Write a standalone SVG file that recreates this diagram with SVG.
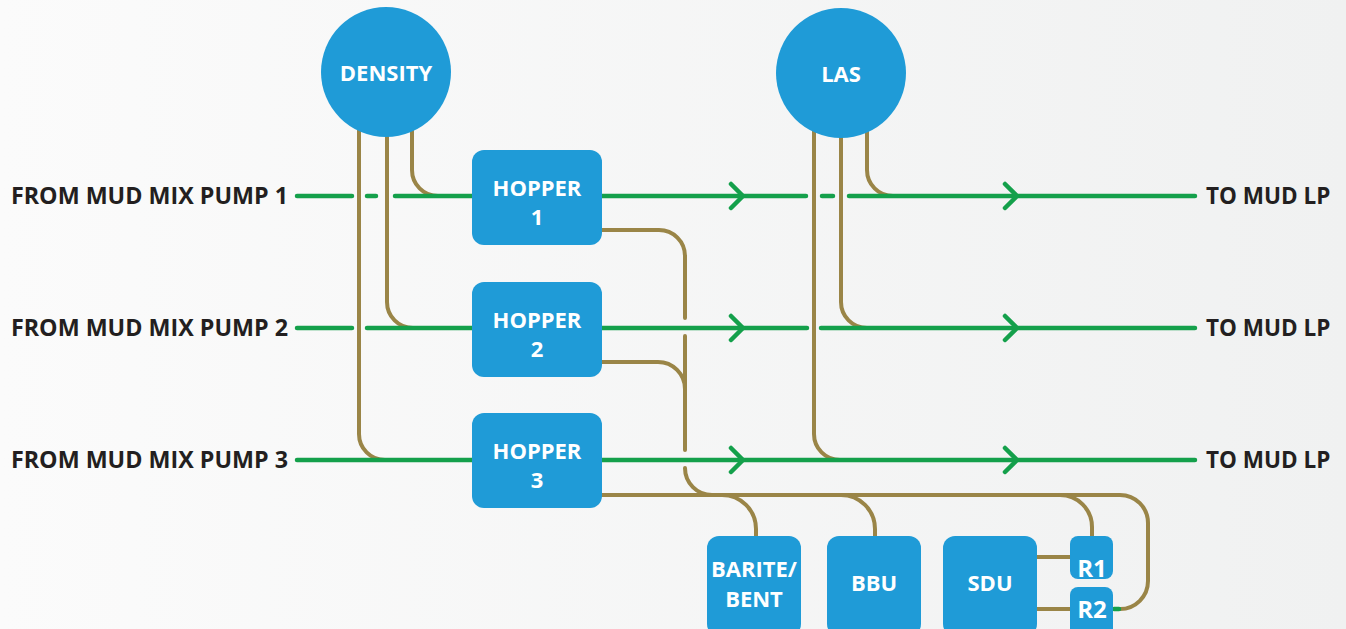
<svg xmlns="http://www.w3.org/2000/svg" width="1346" height="629" viewBox="0 0 1346 629">
<defs>
<linearGradient id="bg" x1="0" y1="0" x2="1" y2="0">
<stop offset="0" stop-color="#fbfbfb"/>
<stop offset="1" stop-color="#f0f1f1"/>
</linearGradient>
</defs>
<style>
.br{fill:none;stroke:#9a8547;stroke-width:4;stroke-linecap:round;stroke-linejoin:round}
.gr{fill:none;stroke:#14a04b;stroke-width:4.5;stroke-linecap:round;stroke-linejoin:round}
.nd{fill:#1f9bd7}
.nt{font-family:"Open Sans","Liberation Sans",sans-serif;font-weight:700;font-size:22px;fill:#ffffff;text-anchor:middle}
.rt{font-size:24px}
.lb{font-family:"Open Sans","Liberation Sans",sans-serif;font-weight:700;font-size:23.3px;fill:#231f20}
.rl{font-size:22.5px}
</style>
<rect width="1346" height="629" fill="url(#bg)"/>
<g id="connectors">
<path class="br" d="M412,120 V170 A26,26 0 0 0 438,196 H450"/>
<path class="br" d="M387,120 V302 A26,26 0 0 0 413,328 H430"/>
<path class="br" d="M359,120 V434 A26,26 0 0 0 385,460 H400"/>
<path class="br" d="M867,120 V170 A26,26 0 0 0 893,196 H905"/>
<path class="br" d="M841,120 V302 A26,26 0 0 0 867,328 H880"/>
<path class="br" d="M814,120 V434 A26,26 0 0 0 840,460 H855"/>
<path class="br" d="M602,230 H659 A26,26 0 0 1 685,256 V318 M685,336 V450 M685,468 A27,27 0 0 0 712,495"/>
<path class="br" d="M602,362 H658 A27,27 0 0 1 685,389"/>
<path class="br" d="M602,495 H1120 A28,28 0 0 1 1148,523 V581 A28,28 0 0 1 1120,609 H1113"/>
<path class="br" d="M722,495 A34,34 0 0 1 756,529 V538"/>
<path class="br" d="M841,495 A34,34 0 0 1 875,529 V538"/>
<path class="br" d="M1060,495 A32,32 0 0 1 1092,527 V538"/>
<path class="br" d="M1037,557 H1070 M1037,609 H1070"/>
<path class="gr" d="M297,196 H352 M367,196 H376 M395,196 H472 M602,196 H806 M822,196 H833 M849,196 H1195"/>
<path class="gr" d="M297,328 H352 M367,328 H472 M602,328 H807 M821,328 H1195"/>
<path class="gr" d="M297,460 H472 M602,460 H1195"/>
<path class="gr" d="M731,184 L743,196 L731,208 M1005,184 L1017,196 L1005,208"/>
<path class="gr" d="M731,316 L743,328 L731,340 M1005,316 L1017,328 L1005,340"/>
<path class="gr" d="M731,448 L743,460 L731,472 M1005,448 L1017,460 L1005,472"/>
<path class="gr" d="M1114,609 H1119"/>
</g>
<g id="density"><circle class="nd" cx="386" cy="72" r="65"/><text class="nt" x="386" y="81">DENSITY</text></g>
<g id="las"><circle class="nd" cx="841" cy="73" r="65"/><text class="nt" x="841" y="82">LAS</text></g>
<g id="hopper1"><rect class="nd" x="472" y="150" width="130" height="95" rx="12"/><text class="nt" x="537" y="196">HOPPER</text><text class="nt" x="537" y="225">1</text></g>
<g id="hopper2"><rect class="nd" x="472" y="282" width="130" height="95" rx="12"/><text class="nt" x="537" y="328">HOPPER</text><text class="nt" x="537" y="357">2</text></g>
<g id="hopper3"><rect class="nd" x="472" y="413" width="130" height="95" rx="12"/><text class="nt" x="537" y="459">HOPPER</text><text class="nt" x="537" y="488">3</text></g>
<g id="barite"><rect class="nd" x="707" y="536" width="94" height="100" rx="12"/><text class="nt" x="754" y="577">BARITE/</text><text class="nt" x="754" y="607">BENT</text></g>
<g id="bbu"><rect class="nd" x="827" y="536" width="94" height="100" rx="12"/><text class="nt" x="874" y="591">BBU</text></g>
<g id="sdu"><rect class="nd" x="943" y="536" width="94" height="100" rx="12"/><text class="nt" x="990" y="591">SDU</text></g>
<g id="r1"><rect class="nd" x="1070" y="536" width="43" height="43" rx="8"/><text class="nt rt" x="1092" y="577">R1</text></g>
<g id="r2"><rect class="nd" x="1070" y="587" width="43" height="50" rx="8"/><text class="nt rt" x="1092" y="618">R2</text></g>
<g id="labels">
<text class="lb" x="288" y="204" text-anchor="end">FROM MUD MIX PUMP 1</text>
<text class="lb" x="288" y="336" text-anchor="end">FROM MUD MIX PUMP 2</text>
<text class="lb" x="288" y="468" text-anchor="end">FROM MUD MIX PUMP 3</text>
<text class="lb rl" x="1206" y="204">TO MUD LP</text>
<text class="lb rl" x="1206" y="336">TO MUD LP</text>
<text class="lb rl" x="1206" y="468">TO MUD LP</text>
</g>
</svg>
